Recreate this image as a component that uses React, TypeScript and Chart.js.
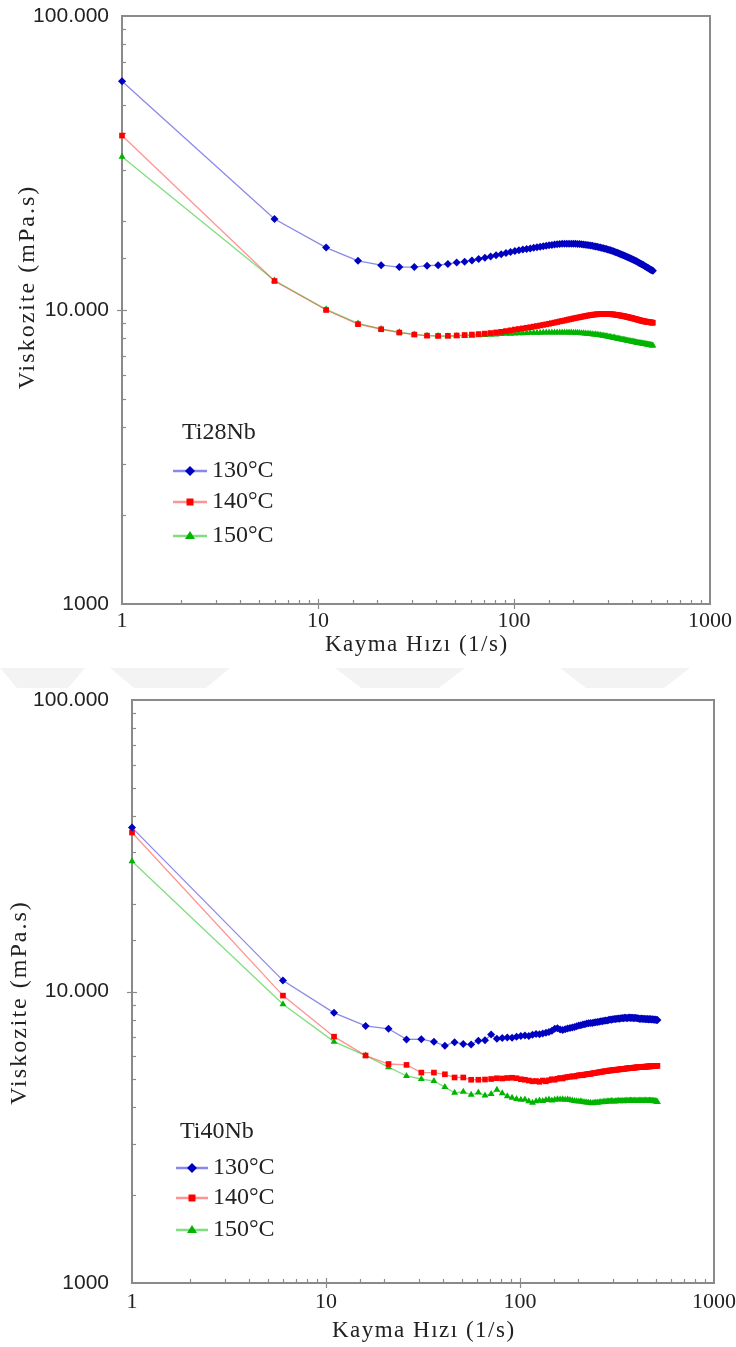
import React, { useEffect, useRef } from 'react';
import { Chart, registerables } from 'chart.js';

Chart.register(...registerables);

// ---------- DATA ----------
const SHEAR_RATE = [
  1, 6, 11, 16, 21, 26, 31, 36, 41, 46, 51, 56, 61, 66, 71, 76, 81, 86, 91, 96,
  101, 106, 111, 116, 121, 126, 131, 136, 141, 146, 151, 156, 161, 166, 171, 176, 181, 186, 191, 196,
  201, 206, 211, 216, 221, 226, 231, 236, 241, 246, 251, 256, 261, 266, 271, 276, 281, 286, 291, 296,
  301, 306, 311, 316, 321, 326, 331, 336, 341, 346, 351, 356, 361, 366, 371, 376, 381, 386, 391, 396,
  401, 406, 411, 416, 421, 426, 431, 436, 441, 446, 451, 456, 461, 466, 471, 476, 481, 486, 491, 496,
  501, 506, 511,
];

const TEMPERATURES = ['130°C', '140°C', '150°C'];
const X_TITLE = 'Kayma Hızı (1/s)';
const Y_TITLE = 'Viskozite (mPa.s)';

const X_TICK_LABELS: Record<number, string> = { 1: '1', 10: '10', 100: '100', 1000: '1000' };
const Y_TICK_LABELS: Record<number, string> = { 1000: '1000', 10000: '10.000', 100000: '100.000' };

const TI28_130 = [
  60000, 20400, 16300, 14700, 14200, 14000, 14000, 14150, 14200, 14350, 14500, 14600, 14750, 14900, 15050, 15200, 15350, 15480, 15620, 15750,
  15880, 15980, 16050, 16120, 16200, 16280, 16350, 16420, 16480, 16540, 16600, 16650, 16700, 16740, 16770, 16790, 16800, 16810, 16810, 16810,
  16800, 16790, 16780, 16760, 16740, 16710, 16680, 16650, 16610, 16570, 16530, 16490, 16450, 16400, 16360, 16310, 16260, 16210, 16160, 16110,
  16060, 16010, 15960, 15900, 15840, 15780, 15720, 15660, 15600, 15540, 15480, 15420, 15360, 15300, 15240, 15180, 15120, 15060, 15000, 14940,
  14880, 14820, 14760, 14700, 14640, 14580, 14520, 14460, 14400, 14340, 14280, 14220, 14160, 14100, 14040, 13980, 13920, 13860, 13800, 13740,
  13690, 13640, 13600,
];
const TI28_140 = [
  39200, 12550, 10000, 8950, 8600, 8380, 8250, 8180, 8160, 8170, 8190, 8220, 8250, 8280, 8310, 8350, 8390, 8430, 8480, 8530,
  8580, 8620, 8660, 8700, 8740, 8780, 8820, 8860, 8900, 8940, 8980, 9020, 9060, 9100, 9140, 9180, 9210, 9250, 9290, 9320,
  9360, 9390, 9420, 9450, 9480, 9510, 9540, 9560, 9590, 9610, 9630, 9650, 9660, 9670, 9680, 9690, 9700, 9700, 9700, 9700,
  9700, 9690, 9680, 9670, 9660, 9650, 9630, 9620, 9600, 9590, 9570, 9550, 9540, 9520, 9500, 9480, 9460, 9440, 9420, 9400,
  9380, 9360, 9340, 9320, 9300, 9280, 9260, 9240, 9220, 9200, 9180, 9170, 9150, 9140, 9130, 9120, 9110, 9100, 9090, 9080,
  9070, 9060, 9050,
];
const TI28_150 = [
  33200, 12600, 10050, 9000, 8620, 8400, 8260, 8180, 8150, 8140, 8150, 8160, 8180, 8200, 8220, 8240, 8260, 8280, 8300, 8310,
  8320, 8330, 8340, 8350, 8360, 8360, 8370, 8370, 8380, 8380, 8380, 8390, 8390, 8390, 8390, 8390, 8390, 8380, 8380, 8380,
  8370, 8370, 8360, 8350, 8340, 8330, 8320, 8310, 8300, 8290, 8270, 8260, 8250, 8230, 8220, 8200, 8190, 8170, 8150, 8140,
  8120, 8100, 8090, 8070, 8050, 8040, 8020, 8000, 7990, 7970, 7950, 7940, 7920, 7910, 7890, 7880, 7860, 7850, 7840, 7820,
  7810, 7800, 7780, 7770, 7760, 7740, 7730, 7720, 7710, 7700, 7690, 7680, 7670, 7660, 7650, 7640, 7630, 7620, 7610, 7600,
  7590, 7580, 7570,
];

const TI40_130 = [
  36500, 10900, 8450, 7620, 7450, 6850, 6860, 6720, 6520, 6700, 6600, 6580, 6780, 6800, 7120, 6880, 6920, 6950, 6940, 7000,
  7030, 7060, 7040, 7100, 7150, 7130, 7180, 7220, 7260, 7330, 7450, 7480, 7400, 7380, 7420, 7460, 7500, 7520, 7560, 7600,
  7640, 7660, 7700, 7720, 7760, 7780, 7790, 7800, 7830, 7850, 7860, 7880, 7900, 7910, 7930, 7950, 7960, 7990, 8020, 8000,
  8030, 8050, 8040, 8060, 8080, 8070, 8090, 8110, 8100, 8120, 8130, 8100, 8120, 8140, 8110, 8130, 8120, 8100, 8120, 8110,
  8090, 8100, 8070, 8050, 8080, 8060, 8040, 8060, 8050, 8030, 8050, 8040, 8020, 8040, 8030, 8010, 8030, 8020, 8000, 8010,
  8000, 7990, 7990,
];
const TI40_140 = [
  35100, 9680, 7000, 6030, 5640, 5600, 5270, 5270, 5200, 5070, 5070, 4980, 4980, 4990, 5010, 5040, 5030, 5050, 5060, 5040,
  5000, 4980, 4950, 4920, 4930, 4900, 4950, 4920, 4960, 5000, 4980, 5020, 5050, 5030, 5070, 5090, 5100, 5120, 5110, 5140,
  5160, 5170, 5160, 5190, 5200, 5220, 5210, 5240, 5250, 5260, 5270, 5290, 5290, 5310, 5320, 5330, 5330, 5350, 5360, 5360,
  5370, 5380, 5390, 5390, 5400, 5410, 5410, 5420, 5430, 5430, 5440, 5450, 5450, 5460, 5460, 5470, 5470, 5480, 5480, 5490,
  5490, 5500, 5500, 5500, 5510, 5510, 5510, 5520, 5520, 5520, 5530, 5530, 5530, 5540, 5540, 5540, 5540, 5550, 5550, 5550,
  5550, 5560, 5560,
];
const TI40_150 = [
  28000, 9040, 6730, 6030, 5500, 5130, 5010, 4930, 4700, 4490, 4530, 4420, 4500, 4400, 4450, 4600, 4480, 4370, 4320, 4280,
  4250, 4260, 4200, 4150, 4200, 4230, 4210, 4240, 4260, 4230, 4250, 4270, 4260, 4270, 4250, 4260, 4240, 4230, 4210, 4200,
  4190, 4200, 4180, 4170, 4160, 4150, 4150, 4140, 4150, 4160, 4150, 4170, 4180, 4170, 4190, 4180, 4200, 4190, 4200, 4210,
  4200, 4190, 4200, 4210, 4220, 4200, 4210, 4220, 4200, 4210, 4220, 4230, 4210, 4220, 4230, 4220, 4210, 4220, 4230, 4220,
  4210, 4220, 4230, 4220, 4230, 4220, 4210, 4230, 4220, 4230, 4220, 4210, 4220, 4230, 4220, 4210, 4220, 4210, 4200, 4210,
  4200, 4190, 4180,
];

// ---------- STYLE ----------
const SERIES_STYLE = [
  { line: 'rgba(40,40,220,0.55)', marker: '#0000c0', pointStyle: 'rectRot', radius: 4 },
  { line: 'rgba(255,40,40,0.5)', marker: '#ff0000', pointStyle: 'rect', radius: 4 },
  { line: 'rgba(0,190,0,0.5)', marker: '#00b400', pointStyle: 'triangle', radius: 4 },
];

const AXIS_COLOR = '#8a8a8a';
const SERIF = '"Liberation Serif", "Times New Roman", serif';
const SANS = '"Liberation Sans", Arial, sans-serif';

const isDecade = (v: number) => Math.abs(Math.log10(v) - Math.round(Math.log10(v))) < 1e-9;

const framePlugin = {
  id: 'frameTicks',
  beforeDatasetsDraw(chart: any, _args: any, opts: any) {
    const { ctx, chartArea: a, scales } = chart;
    const x = scales.x;
    const y = scales.y;
    ctx.save();
    ctx.strokeStyle = AXIS_COLOR;
    ctx.lineWidth = 1.2;
    x.ticks.forEach((t: any) => {
      const px = Math.round(x.getPixelForValue(t.value)) + 0.5;
      if (px < a.left + 1 || px > a.right - 1) return;
      const major = isDecade(t.value);
      ctx.beginPath();
      ctx.moveTo(px, a.bottom + (major ? 5 : 0));
      ctx.lineTo(px, a.bottom - (major ? 5 : 4));
      ctx.stroke();
    });
    y.ticks.forEach((t: any) => {
      const py = Math.round(y.getPixelForValue(t.value)) + 0.5;
      if (py < a.top + 1 || py > a.bottom - 1) return;
      const major = isDecade(t.value);
      ctx.beginPath();
      ctx.moveTo(a.left - (major ? 5 : 0), py);
      ctx.lineTo(a.left + (major ? 5 : 4), py);
      ctx.stroke();
    });
    ctx.lineWidth = 2;
    ctx.strokeRect(a.left, a.top, a.right - a.left, a.bottom - a.top);

    // axis titles
    ctx.fillStyle = '#222';
    ctx.textBaseline = 'middle';
    ctx.textAlign = 'center';
    (ctx as any).letterSpacing = `${opts.xTitleSpacing}px`;
    ctx.font = `${opts.xTitleSize}px ${SERIF}`;
    ctx.fillText(X_TITLE, (a.left + a.right) / 2 + opts.xTitleSpacing / 2, opts.xTitleY);
    (ctx as any).letterSpacing = `${opts.yTitleSpacing}px`;
    ctx.font = `${opts.yTitleSize}px ${SERIF}`;
    ctx.translate(opts.yTitleX, (a.top + a.bottom) / 2 + opts.yTitleShift);
    ctx.rotate(-Math.PI / 2);
    ctx.fillText(Y_TITLE, opts.yTitleSpacing / 2, 0);
    (ctx as any).letterSpacing = '0px';
    ctx.restore();
  },
};

const legendPlugin = {
  id: 'insideLegend',
  afterDraw(chart: any, _args: any, opts: any) {
    if (!opts || !opts.title) return;
    const { ctx } = chart;
    ctx.save();
    ctx.fillStyle = '#222';
    ctx.textBaseline = 'middle';
    ctx.textAlign = 'left';
    ctx.font = `24px ${SERIF}`;
    ctx.fillText(opts.title, opts.titleX, opts.titleY);
    opts.rows.forEach((rowY: number, i: number) => {
      const s = SERIES_STYLE[i];
      ctx.strokeStyle = s.line;
      ctx.lineWidth = 2.5;
      ctx.beginPath();
      ctx.moveTo(opts.lineX0, rowY);
      ctx.lineTo(opts.lineX1, rowY);
      ctx.stroke();
      const cx = (opts.lineX0 + opts.lineX1) / 2;
      ctx.fillStyle = s.marker;
      ctx.beginPath();
      const r = 5;
      if (s.pointStyle === 'rectRot') {
        ctx.moveTo(cx, rowY - r);
        ctx.lineTo(cx + r, rowY);
        ctx.lineTo(cx, rowY + r);
        ctx.lineTo(cx - r, rowY);
      } else if (s.pointStyle === 'rect') {
        ctx.rect(cx - 3.5, rowY - 3.5, 7, 7);
      } else {
        ctx.moveTo(cx, rowY - r);
        ctx.lineTo(cx + r, rowY + r * 0.6);
        ctx.lineTo(cx - r, rowY + r * 0.6);
      }
      ctx.closePath();
      ctx.fill();
      ctx.fillStyle = '#222';
      ctx.fillText(TEMPERATURES[i], opts.textX, rowY);
    });
    ctx.restore();
  },
};

type ChartProps = {
  top: number;
  width: number;
  height: number;
  padding: { top: number; right: number; left: number; bottom: number };
  yAxisWidth: number;
  xAxisHeight: number;
  yTickPad: number;
  xTickPad: number;
  titles: any;
  series: number[][];
  legend: any;
};

function ViscosityChart(p: ChartProps) {
  const ref = useRef<HTMLCanvasElement>(null);
  useEffect(() => {
    if (!ref.current) return;
    const chart = new Chart(ref.current, {
      type: 'line',
      data: {
        datasets: p.series.map((vals, i) => ({
          label: TEMPERATURES[i],
          data: SHEAR_RATE.map((x, k) => ({ x, y: vals[k] })),
          borderColor: SERIES_STYLE[i].line,
          backgroundColor: SERIES_STYLE[i].marker,
          pointBackgroundColor: SERIES_STYLE[i].marker,
          pointBorderColor: SERIES_STYLE[i].marker,
          pointBorderWidth: 0,
          pointStyle: SERIES_STYLE[i].pointStyle as any,
          pointRadius: SERIES_STYLE[i].radius,
          borderWidth: 1.3,
          tension: 0,
          clip: false as any,
        })),
      },
      options: {
        responsive: false,
        animation: false,
        layout: { padding: p.padding },
        plugins: {
          legend: { display: false },
          tooltip: { enabled: false },
          insideLegend: p.legend,
          frameTicks: p.titles,
        } as any,
        scales: {
          x: {
            type: 'logarithmic',
            min: 1,
            max: 1000,
            grid: { display: false, drawTicks: false },
            border: { display: false },
            ticks: {
              autoSkip: false,
              maxRotation: 0,
              padding: p.xTickPad,
              color: '#222',
              font: { family: SERIF, size: 22 },
              callback: (v: any) => X_TICK_LABELS[Number(v)] ?? '',
            },
            afterFit: (s: any) => {
              s.height = p.xAxisHeight;
              s.paddingLeft = 0;
              s.paddingRight = 0;
            },
          },
          y: {
            type: 'logarithmic',
            min: 1000,
            max: 100000,
            grid: { display: false, drawTicks: false },
            border: { display: false },
            ticks: {
              autoSkip: false,
              padding: p.yTickPad,
              color: '#222',
              font: { family: SANS, size: 21 },
              callback: (v: any) => Y_TICK_LABELS[Number(v)] ?? '',
            },
            afterFit: (s: any) => {
              s.width = p.yAxisWidth;
              s.paddingTop = 0;
              s.paddingBottom = 0;
            },
          },
        } as any,
      },
      plugins: [framePlugin, legendPlugin],
    });
    return () => chart.destroy();
  }, []);
  return (
    <canvas
      ref={ref}
      width={p.width}
      height={p.height}
      style={{ position: 'absolute', left: 0, top: p.top, width: p.width, height: p.height }}
    />
  );
}

const WATERMARK = [
  { left: 0, width: 85 },
  { left: 110, width: 120 },
  { left: 335, width: 130 },
  { left: 560, width: 130 },
];

export default function App() {
  return (
    <div style={{ position: 'absolute', left: 0, top: 0, width: 736, height: 1347, background: '#fff', overflow: 'hidden' }}>
      {WATERMARK.map((w, i) => (
        <div
          key={i}
          style={{
            position: 'absolute',
            top: 668,
            left: w.left,
            width: w.width,
            height: 20,
            background: '#f3f3f3',
            clipPath: 'polygon(0 0, 100% 0, 80% 100%, 20% 100%)',
          }}
        />
      ))}
      <ViscosityChart
        top={0}
        width={736}
        height={665}
        padding={{ top: 16, right: 26, left: 0, bottom: 0 }}
        yAxisWidth={122}
        xAxisHeight={61}
        yTickPad={13}
        xTickPad={4}
        titles={{ xTitleY: 645, xTitleSize: 23, xTitleSpacing: 1.5, yTitleX: 28, yTitleSize: 24, yTitleSpacing: 2, yTitleShift: -22 }}
        series={[TI28_130, TI28_140, TI28_150]}
        legend={{ title: 'Ti28Nb', titleX: 182, titleY: 433, rows: [471, 502, 536], lineX0: 173, lineX1: 207, textX: 212 }}
      />
      <ViscosityChart
        top={670}
        width={736}
        height={677}
        padding={{ top: 30, right: 22, left: 0, bottom: 0 }}
        yAxisWidth={132}
        xAxisHeight={64}
        yTickPad={23}
        xTickPad={6}
        titles={{ xTitleY: 661, xTitleSize: 23, xTitleSpacing: 1.5, yTitleX: 20, yTitleSize: 24, yTitleSpacing: 2, yTitleShift: 12 }}
        series={[TI40_130, TI40_140, TI40_150]}
        legend={{ title: 'Ti40Nb', titleX: 180, titleY: 462, rows: [498, 528, 560], lineX0: 176, lineX1: 208, textX: 213 }}
      />
    </div>
  );
}
